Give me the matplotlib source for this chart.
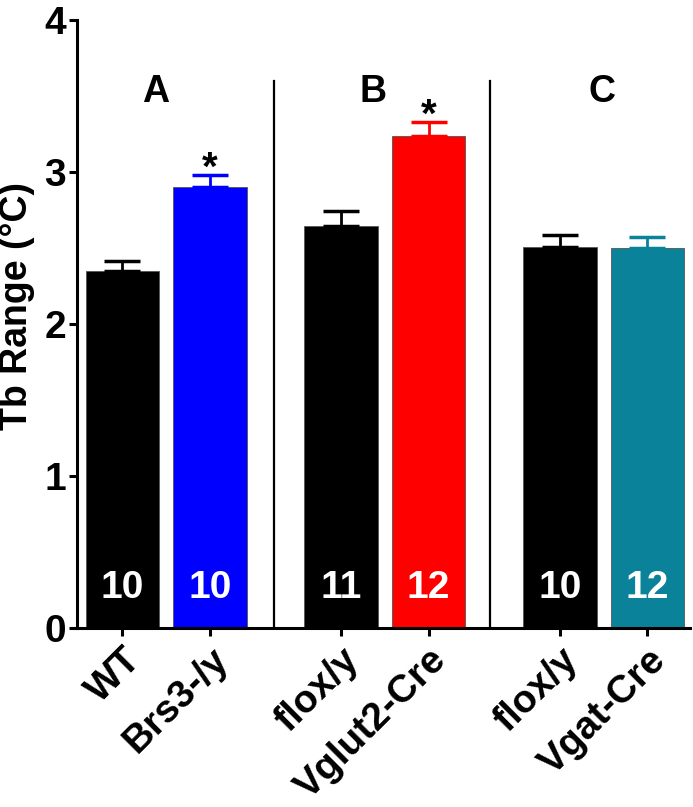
import matplotlib.pyplot as plt
from matplotlib.transforms import ScaledTranslation

plt.rcParams['font.family'] = ['Liberation Sans', 'DejaVu Sans']
plt.rcParams['font.weight'] = 'bold'

labels = ['WT', 'Brs3-/y', 'flox/y', 'Vglut2-Cre', 'flox/y', 'Vgat-Cre']
means = [2.35, 2.90, 2.645, 3.24, 2.51, 2.50]
sems = [0.065, 0.08, 0.10, 0.09, 0.075, 0.07]
n_mice = ['10', '10', '11', '12', '10', '12']
colors = ['black', '#0000ff', 'black', '#ff0000', 'black', '#0a8299']
groups = ['A', 'B', 'C']
stars = [1, 3]

pos = [0, 1, 2.5, 3.5, 5, 6]

fig = plt.figure(figsize=(6.93, 8.07), dpi=100)
ax = fig.add_axes([0.111, 0.222, 0.885, 0.753])

for x, m, s, c in zip(pos, means, sems, colors):
    ax.bar(x, m, width=0.84, color=c, edgecolor='#555555', linewidth=0.6, zorder=2)
    ax.errorbar(x, m, yerr=[[0], [s]], fmt='none', ecolor=c, elinewidth=2,
                capsize=13, capthick=2.5, zorder=3)

# n per group, white inside bars
for x, n in zip(pos, n_mice):
    ax.text(x, 0.26, n, color='white', ha='center', va='center',
            fontsize=28, fontweight='bold', zorder=4)

# significance stars
for i in stars:
    ax.text(pos[i], means[i] + sems[i] - 0.03, '*', ha='center', va='baseline',
            fontsize=29, fontweight='bold')

# group letters and dividers
for gx, g in zip([0.38, 2.86, 5.48], groups):
    ax.text(gx, 3.53, g, ha='center', va='center', fontsize=27, fontweight='bold')
for vx in [1.73, 4.2]:
    ax.plot([vx, vx], [0, 3.6], color='black', lw=1.6, zorder=1)

ax.set_xlim(-0.52, 6.49)
ax.set_ylim(0, 4)
ax.set_yticks([0, 1, 2, 3, 4])
ax.set_xticks(pos)
ax.set_xticklabels(labels, rotation=45, ha='right', rotation_mode='anchor',
                   fontsize=28, fontweight='bold')
shift = ScaledTranslation(-6 / 100, -3 / 100, fig.dpi_scale_trans)
for lab in ax.get_xticklabels():
    lab.set_transform(lab.get_transform() + shift)
ax.tick_params(axis='y', labelsize=28, width=2.2, length=6, pad=2)
ax.tick_params(axis='x', width=2.2, length=6, pad=4)
for lab in ax.get_yticklabels():
    lab.set_fontweight('bold')
ax.set_ylabel('Tb Range (°C)', fontsize=27, fontweight='bold')
ax.yaxis.set_label_coords(-0.068, 0.53)

ax.spines['top'].set_visible(False)
ax.spines['right'].set_visible(False)
ax.spines['left'].set_linewidth(2.2)
ax.spines['bottom'].set_linewidth(2.2)

fig.savefig('out.png', dpi=100)
